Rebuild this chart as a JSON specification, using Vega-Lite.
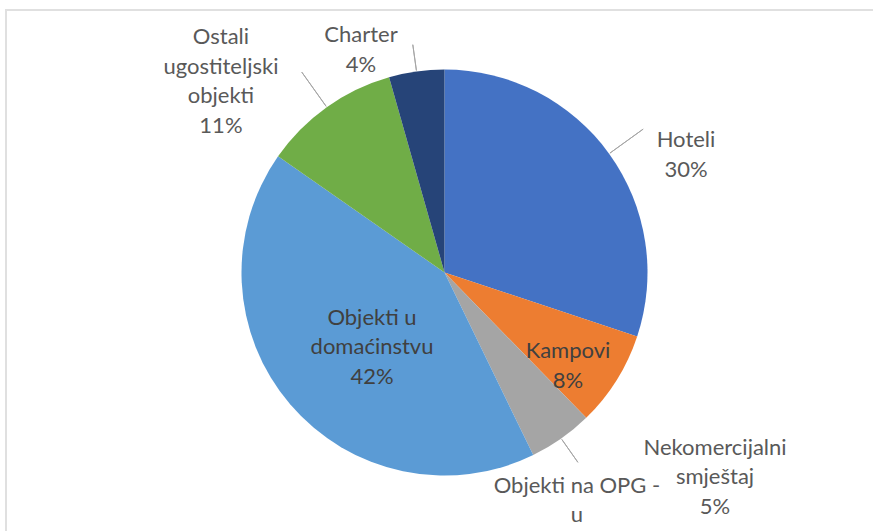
{
  "$schema": "https://vega.github.io/schema/vega-lite/v6.json",
  "width": 877,
  "height": 525,
  "autosize": {"type": "none"},
  "padding": {"left": 6, "top": 10, "right": 0, "bottom": 0},
  "background": "white",
  "config": {"view": {"stroke": null}},
  "data": {
    "values": [
      {"ord": 1, "cat": "Hoteli", "value": 30.1, "label": "Hoteli\n30%"},
      {"ord": 2, "cat": "Kampovi", "value": 7.6, "label": "Kampovi\n8%"},
      {"ord": 3, "cat": "Nekomercijalni smještaj", "value": 5.1, "label": "Nekomercijalni\nsmještaj\n5%"},
      {"ord": 4, "cat": "Objekti na OPG-u", "value": 0.0, "label": "Objekti na OPG -\nu"},
      {"ord": 5, "cat": "Objekti u domaćinstvu", "value": 41.9, "label": "Objekti u\ndomaćinstvu\n42%"},
      {"ord": 6, "cat": "Ostali ugostiteljski objekti", "value": 10.9, "label": "Ostali\nugostiteljski\nobjekti\n11%"},
      {"ord": 7, "cat": "Charter", "value": 4.4, "label": "Charter\n4%"}
    ]
  },
  "transform": [
    {"window": [{"op": "sum", "field": "value", "as": "end"}], "sort": [{"field": "ord"}], "frame": [null, 0]},
    {"calculate": "datum.end - datum.value", "as": "start"},
    {"calculate": "datum.end - datum.value / 2", "as": "mid"}
  ],
  "layer": [
    {
      "transform": [{"filter": "datum.ord == 1"}],
      "mark": {"type": "rect", "fill": null, "stroke": "#e0e0e0", "strokeWidth": 2},
      "encoding": {}
    },
    {
      "mark": {"type": "arc", "outerRadius": 203, "stroke": null},
      "encoding": {
        "theta": {"field": "start", "type": "quantitative", "scale": {"domain": [0, 100]}},
        "theta2": {"field": "end"},
        "color": {
          "field": "cat", "type": "nominal", "sort": null, "legend": null,
          "scale": {
            "domain": ["Hoteli", "Kampovi", "Nekomercijalni smještaj", "Objekti na OPG-u", "Objekti u domaćinstvu", "Ostali ugostiteljski objekti", "Charter"],
            "range": ["#4472C4", "#ED7D31", "#A5A5A5", "#FFC000", "#5B9BD5", "#70AD47", "#264478"]
          }
        }
      }
    },
    {
      "transform": [{"filter": "datum.cat == 'Hoteli'"}],
      "mark": {"type": "arc", "radius": 245, "radius2": 204, "stroke": "#a6a6a6", "strokeWidth": 1, "fill": null},
      "encoding": {"theta": {"field": "mid", "type": "quantitative", "scale": {"domain": [0, 100]}}, "theta2": {"field": "mid"}}
    },
    {
      "transform": [{"filter": "datum.cat == 'Nekomercijalni smještaj'"}],
      "mark": {"type": "arc", "radius": 232, "radius2": 204, "stroke": "#a6a6a6", "strokeWidth": 1, "fill": null},
      "encoding": {"theta": {"field": "mid", "type": "quantitative", "scale": {"domain": [0, 100]}}, "theta2": {"field": "mid"}}
    },
    {
      "transform": [{"filter": "datum.cat == 'Ostali ugostiteljski objekti'"}],
      "mark": {"type": "arc", "radius": 246, "radius2": 204, "stroke": "#a6a6a6", "strokeWidth": 1, "fill": null},
      "encoding": {"theta": {"field": "mid", "type": "quantitative", "scale": {"domain": [0, 100]}}, "theta2": {"field": "mid"}}
    },
    {
      "transform": [{"filter": "datum.cat == 'Charter'"}],
      "mark": {"type": "arc", "radius": 230, "radius2": 204, "stroke": "#a6a6a6", "strokeWidth": 1, "fill": null},
      "encoding": {"theta": {"field": "mid", "type": "quantitative", "scale": {"domain": [0, 100]}}, "theta2": {"field": "mid"}}
    },
    {
      "transform": [{"filter": "datum.cat == 'Hoteli'"}],
      "mark": {"type": "text", "radius": 268.6, "dx": 23.7, "dy": 25, "lineBreak": "\n", "lineHeight": 29.5, "font": "Lato", "fontSize": 22, "color": "#595959", "align": "center", "baseline": "middle"},
      "encoding": {"theta": {"field": "mid", "type": "quantitative", "scale": {"domain": [0, 100]}}, "text": {"field": "label"}}
    },
    {
      "transform": [{"filter": "datum.cat == 'Kampovi'"}],
      "mark": {"type": "text", "radius": 155, "dx": -7.9, "dy": -3.5, "lineBreak": "\n", "lineHeight": 29.5, "font": "Lato", "fontSize": 22, "color": "#404040", "align": "center", "baseline": "middle"},
      "encoding": {"theta": {"field": "mid", "type": "quantitative", "scale": {"domain": [0, 100]}}, "text": {"field": "label"}}
    },
    {
      "transform": [{"filter": "datum.cat == 'Nekomercijalni smještaj'"}],
      "mark": {"type": "text", "radius": 339, "dx": 75.6, "dy": -102.3, "lineBreak": "\n", "lineHeight": 29.5, "font": "Lato", "fontSize": 22, "color": "#595959", "align": "center", "baseline": "middle"},
      "encoding": {"theta": {"field": "mid", "type": "quantitative", "scale": {"domain": [0, 100]}}, "text": {"field": "label"}}
    },
    {
      "transform": [{"filter": "datum.cat == 'Objekti na OPG-u'"}],
      "mark": {"type": "text", "radius": 276, "dx": 11.8, "dy": -35.2, "lineBreak": "\n", "lineHeight": 29.5, "font": "Lato", "fontSize": 22, "color": "#595959", "align": "center", "baseline": "middle"},
      "encoding": {"theta": {"field": "mid", "type": "quantitative", "scale": {"domain": [0, 100]}}, "text": {"field": "label"}}
    },
    {
      "transform": [{"filter": "datum.cat == 'Objekti u domaćinstvu'"}],
      "mark": {"type": "text", "radius": 104, "dx": 6.6, "dy": -22.5, "lineBreak": "\n", "lineHeight": 29.5, "font": "Lato", "fontSize": 22, "color": "#404040", "align": "center", "baseline": "middle"},
      "encoding": {"theta": {"field": "mid", "type": "quantitative", "scale": {"domain": [0, 100]}}, "text": {"field": "label"}}
    },
    {
      "transform": [{"filter": "datum.cat == 'Ostali ugostiteljski objekti'"}],
      "mark": {"type": "text", "radius": 294, "dx": -53, "dy": 4.3, "lineBreak": "\n", "lineHeight": 29.5, "font": "Lato", "fontSize": 22, "color": "#595959", "align": "center", "baseline": "middle"},
      "encoding": {"theta": {"field": "mid", "type": "quantitative", "scale": {"domain": [0, 100]}}, "text": {"field": "label"}}
    },
    {
      "transform": [{"filter": "datum.cat == 'Charter'"}],
      "mark": {"type": "text", "radius": 238, "dx": -50.7, "dy": -1.6, "lineBreak": "\n", "lineHeight": 29.5, "font": "Lato", "fontSize": 22, "color": "#595959", "align": "center", "baseline": "middle"},
      "encoding": {"theta": {"field": "mid", "type": "quantitative", "scale": {"domain": [0, 100]}}, "text": {"field": "label"}}
    }
  ]
}
